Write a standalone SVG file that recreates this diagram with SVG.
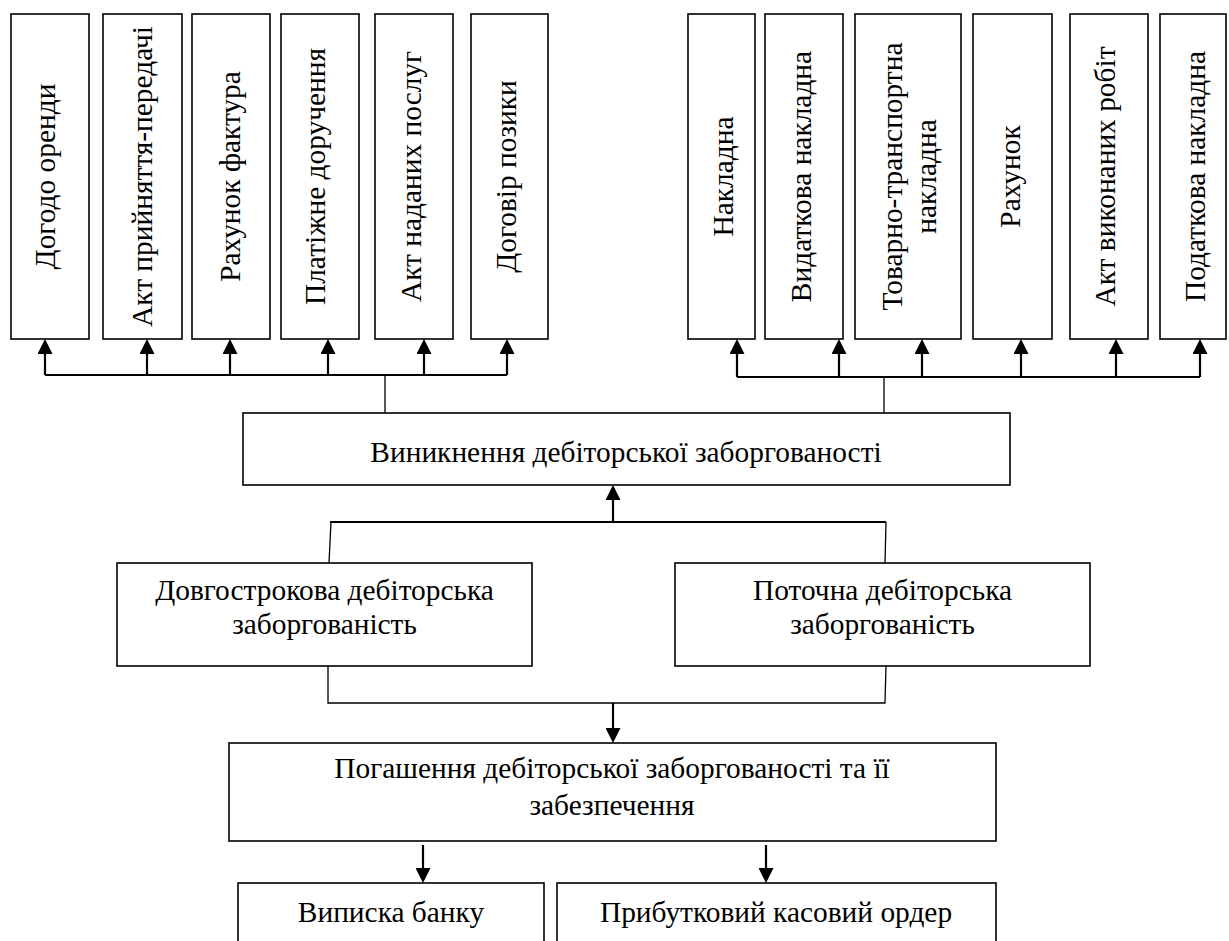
<svg xmlns="http://www.w3.org/2000/svg" width="1229" height="941" viewBox="0 0 1229 941">
<style>
.box{fill:#fff;stroke:#000;stroke-width:1.6}
.t{font-family:"Liberation Serif","Times New Roman",serif;font-size:29.4px;fill:#000;text-anchor:middle}
.thick{stroke:#000;stroke-width:2.2;fill:none}
.thin{stroke:#000;stroke-width:1.3;fill:none}
</style>
<defs>
<marker id="ah" viewBox="0 0 15 15" refX="0" refY="7.5" markerWidth="15" markerHeight="15" markerUnits="userSpaceOnUse" orient="auto">
<path d="M0,0 L15,7.5 L0,15 Z" fill="#000"/>
</marker>
</defs>
<rect width="1229" height="941" fill="#fff"/>

<g id="connectors">
<polyline class="thick" points="45,375 507,375"/>
<line class="thick" x1="45" y1="375" x2="45" y2="354" marker-end="url(#ah)"/>
<line class="thick" x1="147" y1="375" x2="147" y2="354" marker-end="url(#ah)"/>
<line class="thick" x1="230" y1="375" x2="230" y2="354" marker-end="url(#ah)"/>
<line class="thick" x1="328" y1="375" x2="328" y2="354" marker-end="url(#ah)"/>
<line class="thick" x1="424" y1="375" x2="424" y2="354" marker-end="url(#ah)"/>
<line class="thick" x1="507" y1="375" x2="507" y2="354" marker-end="url(#ah)"/>
<line class="thin" x1="385" y1="375" x2="385" y2="413"/>
<polyline class="thick" points="737,377 1200,377"/>
<line class="thick" x1="737" y1="377" x2="737" y2="354" marker-end="url(#ah)"/>
<line class="thick" x1="839" y1="377" x2="839" y2="354" marker-end="url(#ah)"/>
<line class="thick" x1="922" y1="377" x2="922" y2="354" marker-end="url(#ah)"/>
<line class="thick" x1="1021" y1="377" x2="1021" y2="354" marker-end="url(#ah)"/>
<line class="thick" x1="1116" y1="377" x2="1116" y2="354" marker-end="url(#ah)"/>
<line class="thick" x1="1200" y1="377" x2="1200" y2="354" marker-end="url(#ah)"/>
<line class="thin" x1="884" y1="377" x2="884" y2="413"/>
<line class="thick" x1="330" y1="522" x2="886" y2="522"/>
<line class="thick" x1="613" y1="522" x2="613" y2="500" marker-end="url(#ah)"/>
<line class="thin" x1="331" y1="522" x2="329" y2="563"/>
<line class="thin" x1="886" y1="522" x2="885" y2="563"/>
<polyline class="thin" points="328,666 328,703 885,703 886,666"/>
<line class="thick" x1="613" y1="703" x2="613" y2="728" marker-end="url(#ah)"/>
<line class="thick" x1="423" y1="845" x2="423" y2="868" marker-end="url(#ah)"/>
<line class="thick" x1="766" y1="845" x2="766" y2="868" marker-end="url(#ah)"/>
</g>

<g id="n-l1"><rect class="box" x="11" y="14" width="78" height="325"/><text class="t" transform="translate(55,176.5) rotate(-90)">Догодо оренди</text></g>
<g id="n-l2"><rect class="box" x="103" y="14" width="79" height="325"/><text class="t" transform="translate(152,176.5) rotate(-90)">Акт прийняття-передачі</text></g>
<g id="n-l3"><rect class="box" x="192" y="14" width="78" height="325"/><text class="t" transform="translate(240,176.5) rotate(-90)">Рахунок фактура</text></g>
<g id="n-l4"><rect class="box" x="281" y="14" width="78" height="325"/><text class="t" transform="translate(325,176.5) rotate(-90)">Платіжне доручення</text></g>
<g id="n-l5"><rect class="box" x="375" y="14" width="78" height="325"/><text class="t" transform="translate(421,176.5) rotate(-90)">Акт наданих послуг</text></g>
<g id="n-l6"><rect class="box" x="471" y="14" width="77" height="325"/><text class="t" transform="translate(516,176.5) rotate(-90)">Договір позики</text></g>

<g id="n-r1"><rect class="box" x="688" y="14" width="67" height="325"/><text class="t" transform="translate(733,176.5) rotate(-90)">Накладна</text></g>
<g id="n-r2"><rect class="box" x="765" y="14" width="78" height="325"/><text class="t" transform="translate(811,176.5) rotate(-90)">Видаткова накладна</text></g>
<g id="n-r3"><rect class="box" x="855" y="14" width="106" height="325"/><text class="t" transform="translate(902,176.5) rotate(-90)">Товарно-транспортна</text><text class="t" transform="translate(936,176.5) rotate(-90)">накладна</text></g>
<g id="n-r4"><rect class="box" x="973" y="14" width="79" height="325"/><text class="t" transform="translate(1020,176.5) rotate(-90)">Рахунок</text></g>
<g id="n-r5"><rect class="box" x="1070" y="14" width="78" height="325"/><text class="t" transform="translate(1115,176.5) rotate(-90)">Акт виконаних робіт</text></g>
<g id="n-r6"><rect class="box" x="1160" y="14" width="66" height="325"/><text class="t" transform="translate(1205,176.5) rotate(-90)">Податкова накладна</text></g>

<g id="n-vynyknennia"><rect class="box" x="243" y="413" width="767" height="72"/><text class="t" x="626" y="462">Виникнення дебіторської заборгованості</text></g>
<g id="n-dovgostrokova"><rect class="box" x="117" y="563" width="415" height="103"/><text class="t" x="324.5" y="600">Довгострокова дебіторська</text><text class="t" x="324.5" y="634">заборгованість</text></g>
<g id="n-potochna"><rect class="box" x="675" y="563" width="415" height="103"/><text class="t" x="882.5" y="600">Поточна дебіторська</text><text class="t" x="882.5" y="634">заборгованість</text></g>
<g id="n-pogashennia"><rect class="box" x="229" y="743" width="767" height="98"/><text class="t" x="612" y="778">Погашення дебіторської заборгованості та її</text><text class="t" x="612" y="815">забезпечення</text></g>
<g id="n-vypyska"><rect class="box" x="238" y="883" width="306" height="80"/><text class="t" x="391" y="922">Виписка банку</text></g>
<g id="n-prybutkovyi"><rect class="box" x="557" y="883" width="439" height="80"/><text class="t" x="776" y="922">Прибутковий касовий ордер</text></g>
</svg>
